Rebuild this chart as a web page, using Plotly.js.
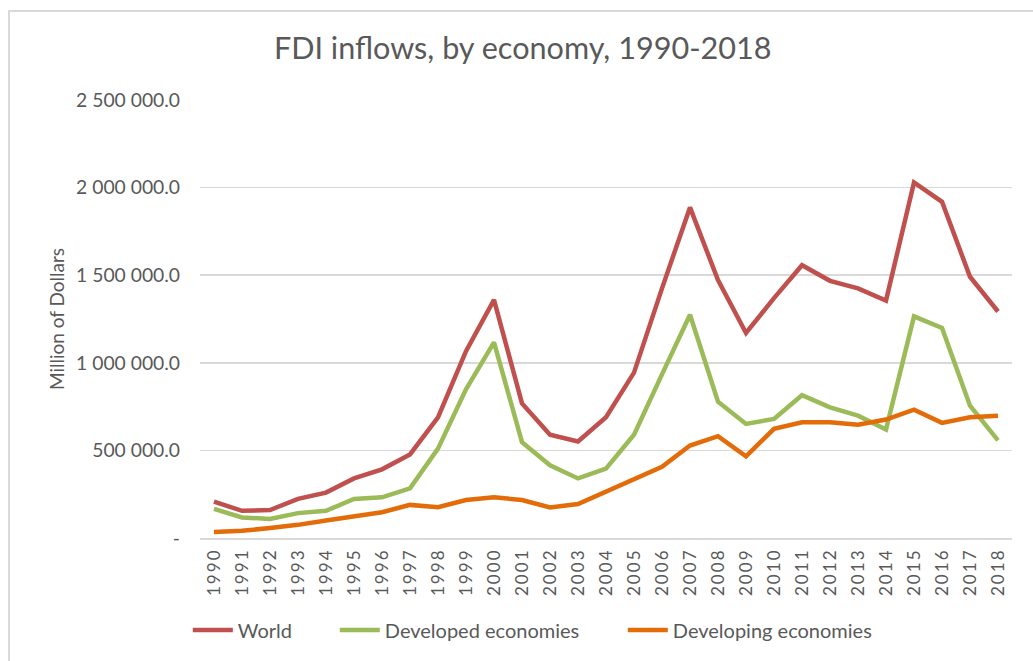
<!DOCTYPE html>
<html>
<head>
<meta charset="utf-8">
<script src="https://cdn.plot.ly/plotly-3.0.1.min.js"></script>
<style>
html,body{margin:0;padding:0;background:#fff;overflow:hidden;}
#frame{position:absolute;left:8px;top:10px;width:1040px;height:700px;border-left:2px solid #d9d9d9;border-top:2px solid #d9d9d9;pointer-events:none;}
#chart{width:1033px;height:661px;}
</style>
</head>
<body>
<div id="chart"></div>
<div id="frame"></div>
<script>
const years = ["1990","1991","1992","1993","1994","1995","1996","1997","1998","1999","2000","2001","2002","2003","2004","2005","2006","2007","2008","2009","2010","2011","2012","2013","2014","2015","2016","2017","2018"];
const world = [208000,155000,160000,223000,259000,340000,392000,477000,689000,1066000,1359000,768000,589000,551000,689000,944000,1425000,1887000,1472000,1170000,1369000,1557000,1468000,1425000,1355000,2029000,1919000,1491000,1293000];
const developed = [166000,117000,109000,142000,155000,223000,232000,283000,510000,849000,1117000,547000,415000,340000,396000,589000,934000,1274000,778000,651000,680000,815000,746000,698000,619000,1265000,1199000,755000,557000];
const developing = [34000,41000,57000,75000,100000,123000,147000,189000,176000,217000,232000,217000,174000,194000,264000,336000,406000,528000,581000,466000,623000,661000,661000,647000,676000,732000,657000,689000,698000];
const yTickVals = [0,500000,1000000,1500000,2000000,2500000];
const yTickText = ["-","500 000.0","1 000 000.0","1 500 000.0","2 000 000.0","2 500 000.0"];
const xTickText = years.map(y => y.split("").join("\u2009"));

const font = "Lato, Noto Sans, sans-serif";
const grey = "#595959";
const traces = [
  {x: years, y: world, name: "World", type: "scatter", mode: "lines", line: {color: "#C0504D", width: 4.5}, legendwidth: 92},
  {x: years, y: developed, name: "Developed economies", type: "scatter", mode: "lines", line: {color: "#9BBB59", width: 4.5}, legendwidth: 233},
  {x: years, y: developing, name: "Developing economies", type: "scatter", mode: "lines", line: {color: "#E36C09", width: 4.5}}
];
const layout = {
  width: 1033, height: 661,
  margin: {l: 200, r: 21, t: 100, b: 121},
  paper_bgcolor: "#fff", plot_bgcolor: "#fff",
  title: {text: "FDI inflows, by economy, 1990-2018", font: {family: font, size: 30.6, color: grey}, x: 0.506, xanchor: "center", y: 0.927, yanchor: "middle"},
  xaxis: {type: "category", range: [-0.5, 28.5], automargin: false, tickvals: years, ticktext: xTickText, tickangle: -90, tickfont: {family: font, size: 17, color: grey}, showgrid: false, showline: true, linecolor: "#d9d9d9", linewidth: 1.5, ticks: "", zeroline: false, ticklabelstandoff: 4},
  yaxis: {range: [0, 2500000], automargin: false, tickvals: yTickVals, ticktext: yTickText, tickfont: {family: font, size: 19.3, color: grey}, showgrid: true, gridcolor: "#d9d9d9", gridwidth: 1.5, zeroline: false, showline: false, ticks: "", ticklabelstandoff: 19,
    title: {text: "Million of Dollars", font: {family: font, size: 19, color: grey}, standoff: 6}},
  showlegend: true,
  legend: {orientation: "h", x: -0.015, xanchor: "left", y: -0.21, yanchor: "middle", font: {family: font, size: 20, color: grey}, traceorder: "normal", itemwidth: 40},
  hovermode: false
};
Plotly.newPlot("chart", traces, layout, {staticPlot: true, displayModeBar: false});
</script>
</body>
</html>
